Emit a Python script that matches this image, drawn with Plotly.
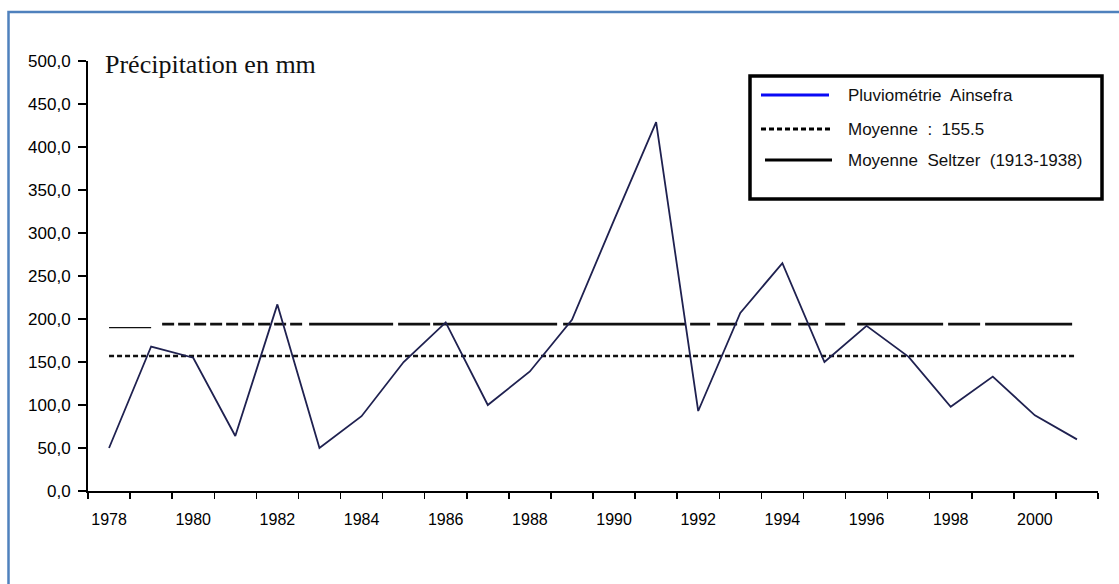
import plotly.graph_objects as go

# ---- data ----
years = list(range(1978, 2002))
precip = [50, 168, 155, 64, 217, 50, 87, 150, 196, 100, 139, 199,
          315, 429, 93, 207, 265, 150, 192, 156, 98, 133, 88, 60]
mean_value = 157          # drawn level of "Moyenne : 155.5"
seltzer_mean = 194        # "Moyenne Seltzer (1913-1938)"
seltzer_start = 190       # thin lead-in segment
y_ticks = [0, 50, 100, 150, 200, 250, 300, 350, 400, 450, 500]
y_labels = ["0,0", "50,0", "100,0", "150,0", "200,0", "250,0", "300,0",
            "350,0", "400,0", "450,0", "500,0"]
x_label_years = [1978, 1980, 1982, 1984, 1986, 1988, 1990, 1992, 1994, 1996, 1998, 2000]
legend_labels = ["Pluviométrie  Ainsefra", "Moyenne  :  155.5", "Moyenne  Seltzer  (1913-1938)"]
title_text = "Précipitation en mm"

# ---- layout geometry (pixels) ----
W, H = 1119, 584
L, R, T, B = 88, 21, 61, 93
PW, PH = W - L - R, H - T - B


def px(x):
    return (x - L) / PW


def py(y):
    return (H - B - y) / PH


SANS = "Arial, Liberation Sans, Helvetica, sans-serif"
SERIF = "Times New Roman, Liberation Serif, serif"

seltzer_dash = [0, 11] + [12, 4] * 8 + [12, 7, 84, 5, 32, 3, 124, 6, 122, 5] \
    + [20, 7] * 5 + [20, 12, 86, 5, 32, 5, 87, 60]
seltzer_dash_str = ",".join(f"{d}px" for d in seltzer_dash)

fig = go.Figure()

fig.add_trace(go.Scatter(
    x=[years[0], years[1]], y=[seltzer_start, seltzer_start], mode="lines",
    line=dict(color="#111111", width=1.2), showlegend=False, hoverinfo="skip"))

fig.add_trace(go.Scatter(
    x=[years[1], years[-1]], y=[seltzer_mean, seltzer_mean], mode="lines",
    line=dict(color="#111111", width=2.6, dash=seltzer_dash_str),
    showlegend=False, hoverinfo="skip"))

fig.add_trace(go.Scatter(
    x=[years[0], years[-1]], y=[mean_value, mean_value], mode="lines",
    line=dict(color="#111111", width=2.6, dash="5px,3px"),
    showlegend=False, hoverinfo="skip"))

fig.add_trace(go.Scatter(
    x=years, y=precip, mode="lines",
    line=dict(color="#1f2150", width=1.8), showlegend=False))

shapes = []
annotations = []

# outer blue frame
shapes.append(dict(type="rect", xref="paper", yref="paper",
                   x0=px(8.5), x1=px(1135), y0=py(12), y1=py(600),
                   line=dict(color="#4f81bd", width=2.5), layer="below"))

# legend box
shapes.append(dict(type="rect", xref="paper", yref="paper",
                   x0=px(750), x1=px(1102), y0=py(76), y1=py(199),
                   line=dict(color="#000000", width=3.5), fillcolor="white"))
legend_y = [95, 129, 160]
shapes.append(dict(type="line", xref="paper", yref="paper",
                   x0=px(761), x1=px(829), y0=py(legend_y[0]), y1=py(legend_y[0]),
                   line=dict(color="#0a0af5", width=3)))
shapes.append(dict(type="line", xref="paper", yref="paper",
                   x0=px(761), x1=px(832), y0=py(legend_y[1]), y1=py(legend_y[1]),
                   line=dict(color="#000000", width=3, dash="5px,3px")))
shapes.append(dict(type="line", xref="paper", yref="paper",
                   x0=px(765), x1=px(832), y0=py(legend_y[2]), y1=py(legend_y[2]),
                   line=dict(color="#000000", width=3)))
for lab, yy in zip(legend_labels, legend_y):
    annotations.append(dict(text=lab, xref="paper", yref="paper",
                            x=px(846), y=py(yy), xanchor="left", yanchor="middle",
                            showarrow=False, font=dict(family=SANS, size=17, color="#111111")))

annotations.append(dict(text=title_text, xref="paper", yref="paper",
                        x=px(103), y=py(65), xanchor="left", yanchor="middle",
                        showarrow=False, font=dict(family=SERIF, size=26, color="#111111")))

fig.update_layout(
    width=W, height=H,
    margin=dict(l=L, r=R, t=T, b=B, pad=0),
    paper_bgcolor="white", plot_bgcolor="white",
    showlegend=False,
    shapes=shapes, annotations=annotations,
    xaxis=dict(
        range=[years[0] - 0.5, years[-1] + 0.5],
        tickmode="array", tickvals=x_label_years,
        ticktext=[str(y) for y in x_label_years],
        ticks="outside", ticklen=13, tickcolor="rgba(0,0,0,0)",
        tickfont=dict(family=SANS, size=16, color="#000000"),
        showgrid=False, zeroline=False,
        showline=True, linecolor="#000000", linewidth=2,
        minor=dict(tickmode="array", tickvals=[y - 0.5 for y in years] + [years[-1] + 0.5],
                   ticks="outside", ticklen=6, tickwidth=1.5, tickcolor="#000000",
                   showgrid=False),
        fixedrange=True,
    ),
    yaxis=dict(
        range=[0, 500],
        tickmode="array", tickvals=y_ticks, ticktext=y_labels,
        ticks="outside", ticklen=8, tickwidth=1.5, tickcolor="#000000",
        ticklabelstandoff=4,
        tickfont=dict(family=SANS, size=17, color="#000000"),
        showgrid=False, zeroline=False,
        showline=True, linecolor="#000000", linewidth=2,
        fixedrange=True,
    ),
)

fig.write_html("out.html",
               config={"displayModeBar": False, "staticPlot": True},
               post_script="document.body.style.margin='0';document.body.style.overflow='hidden';")
